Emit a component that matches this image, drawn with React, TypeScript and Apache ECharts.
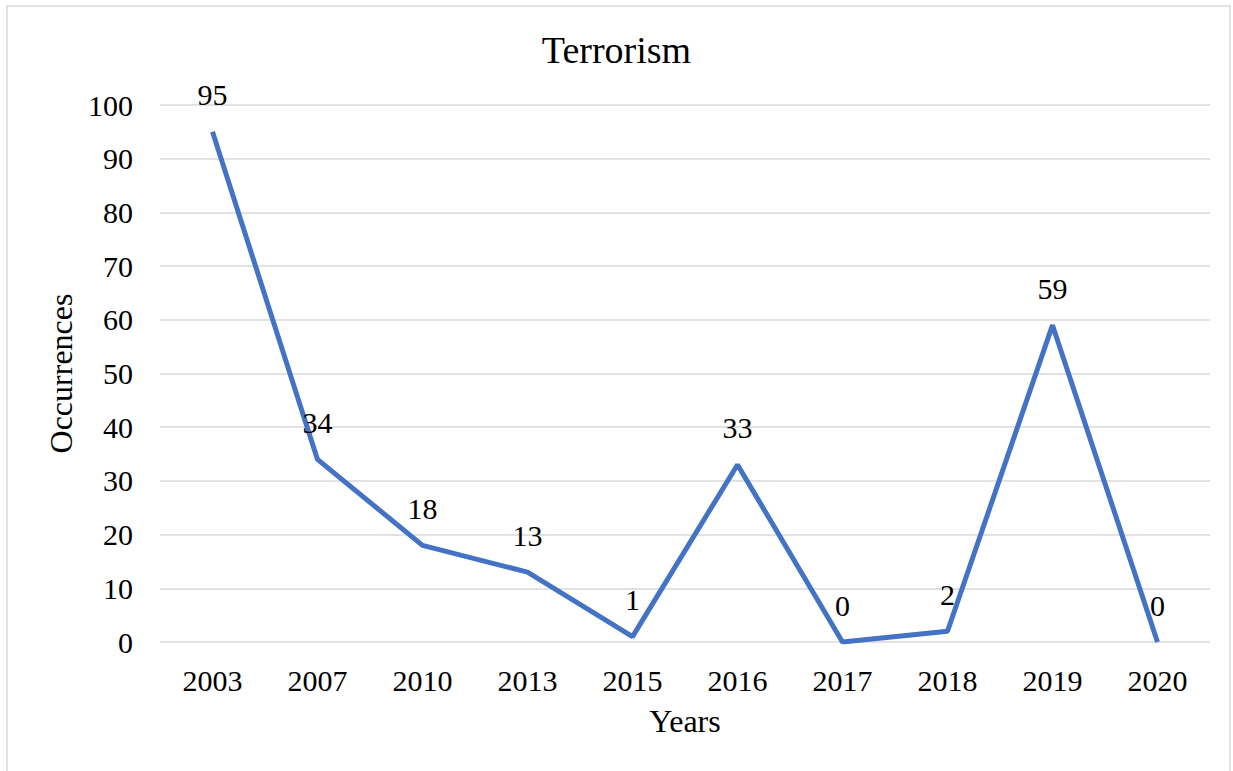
import React, { useEffect, useRef } from "react";
import * as echarts from "echarts";

const years = ["2003", "2007", "2010", "2013", "2015", "2016", "2017", "2018", "2019", "2020"];
const occurrences = [95, 34, 18, 13, 1, 33, 0, 2, 59, 0];
const chartTitle = "Terrorism";
const xName = "Years";
const yName = "Occurrences";

const FONT = "'Liberation Serif', 'Times New Roman', serif";

export default function App() {
  const ref = useRef<HTMLDivElement>(null);
  useEffect(() => {
    if (!ref.current) return;
    const chart = echarts.init(ref.current, undefined, { renderer: "svg" });
    chart.setOption({
      animation: false,
      backgroundColor: "#ffffff",
      textStyle: { fontFamily: FONT, color: "#000" },
      title: {
        text: chartTitle,
        left: "center",
        top: 26,
        textStyle: { fontFamily: FONT, fontSize: 38, fontWeight: "normal", color: "#000" },
      },
      graphic: [
        {
          type: "rect",
          shape: { x: 7, y: 6, width: 1223, height: 790 },
          style: { fill: "none", stroke: "#d9d9d9", lineWidth: 1.5 },
          silent: true,
          z: -1,
        },
      ],
      grid: { left: 160, right: 23, top: 105, bottom: 129 },
      xAxis: {
        type: "category",
        data: years,
        boundaryGap: true,
        name: xName,
        nameLocation: "middle",
        nameGap: 63,
        nameTextStyle: { fontFamily: FONT, fontSize: 32, color: "#000" },
        axisLine: { show: false },
        axisTick: { show: false },
        axisLabel: { fontFamily: FONT, fontSize: 30, color: "#000", margin: 23 },
      },
      yAxis: {
        type: "value",
        min: 0,
        max: 100,
        interval: 10,
        name: yName,
        nameLocation: "middle",
        nameGap: 82,
        nameTextStyle: { fontFamily: FONT, fontSize: 32, color: "#000" },
        axisLine: { show: false },
        axisTick: { show: false },
        axisLabel: { fontFamily: FONT, fontSize: 30, color: "#000", margin: 27 },
        splitLine: { lineStyle: { color: "#d9d9d9", width: 1.5 } },
      },
      series: [
        {
          type: "line",
          data: occurrences,
          showSymbol: true,
          symbol: "circle",
          symbolSize: 0,
          lineStyle: { color: "#4472C4", width: 5 },
          itemStyle: { color: "#4472C4" },
          label: {
            show: true,
            position: "top",
            distance: 22,
            fontFamily: FONT,
            fontSize: 30,
            color: "#000",
          },
        },
      ],
    });
    return () => chart.dispose();
  }, []);
  return (
    <div
      ref={ref}
      style={{ position: "fixed", left: 0, top: 0, width: 1233, height: 771 }}
    />
  );
}
